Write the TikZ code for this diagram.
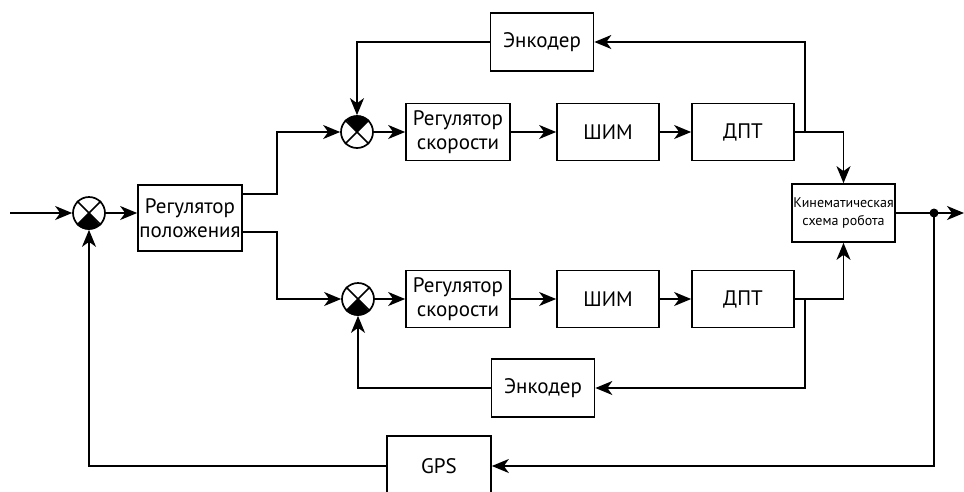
\documentclass[tikz,border=0pt]{standalone}
\usepackage{fontspec}
\setmainfont{PT Sans}
\usetikzlibrary{arrows.meta}

\tikzset{
  blk/.style={draw, line width=1.7pt, minimum width=104pt, minimum height=57pt,
    inner sep=0pt, align=center, font=\fontsize{21}{24}\selectfont},
  sumpt/.style={draw, circle, line width=1.7pt, minimum size=32pt, inner sep=0pt},
  arr/.style={line width=1.7pt, -{Stealth[length=17pt,width=14pt,inset=5pt]}},
  ln/.style={line width=1.7pt}
}

\begin{document}
\begin{tikzpicture}[x=1pt, y=-1pt]
		\clip (0,0) rectangle (964,491);

		% Summing points and blocks
		\node[sumpt] (s0) at (89,213) {};
		\node[blk, minimum height=66pt] (pos) at (190,218) {Регулятор\\положения};

		\node[sumpt] (s1) at (357,132) {};
		\node[blk] (spd1) at (458,132) {Регулятор\\скорости};
		\node[blk, minimum width=102pt] (pwm1) at (608,132) {ШИМ};
		\node[blk, minimum width=102pt] (dpt1) at (743,132) {ДПТ};
		\node[blk, minimum width=103pt, minimum height=58pt] (enc1) at (542,42) {Энкодер};

		\node[sumpt] (s2) at (358,299) {};
		\node[blk] (spd2) at (458,299) {Регулятор\\скорости};
		\node[blk, minimum width=102pt] (pwm2) at (608,299) {ШИМ};
		\node[blk, minimum width=102pt] (dpt2) at (743,299) {ДПТ};
		\node[blk, minimum width=103pt, minimum height=58pt] (enc2) at (543,388) {Энкодер};

		\node[blk, minimum width=103pt, minimum height=58pt, font=\fontsize{14}{18}\selectfont] (kin) at (843.5,213) {Кинематическая\\схема робота};
		\node[blk, minimum height=60pt] (gps) at (439,466) {GPS};

		% Branch points
		\coordinate (in) at (10,213);
		\coordinate (out) at (964,213);
		\coordinate (tap1) at (805,132);
		\coordinate (tap2) at (805,299);
		\coordinate (dot) at (934,213);

		% Crosses and filled sectors of the summing points
		\foreach \s in {s0,s1,s2} {
			\draw[ln] (\s.north east) -- (\s.south west);
			\draw[ln] (\s.north west) -- (\s.south east);
		}
		\fill (s0.center) -- (s0.south west) arc (-135:-45:16pt) -- cycle;
		\fill (s1.center) -- (s1.north east) arc (45:135:16pt) -- cycle;
		\fill (s2.center) -- (s2.south west) arc (-135:-45:16pt) -- cycle;

		% Main path
		\draw[arr] (in) -- (s0.west);
		\draw[arr] (s0.east) -- (s0.east -| pos.west);
		\draw[arr] ([yshift=24pt]pos.east) -- ++(34pt,0) |- (s1.west);
		\draw[arr] ([yshift=-14pt]pos.east) -- ++(34pt,0) |- (s2.west);

		% Upper loop
		\draw[arr] (s1.east) -- (spd1.west);
		\draw[arr] (spd1.east) -- (pwm1.west);
		\draw[arr] (pwm1.east) -- (dpt1.west);
		\draw[arr] (dpt1.east) -| (kin.north);
		\draw[arr] (tap1) |- (enc1.east);
		\draw[arr] (enc1.west) -| (s1.north);

		% Lower loop
		\draw[arr] (s2.east) -- (spd2.west);
		\draw[arr] (spd2.east) -- (pwm2.west);
		\draw[arr] (pwm2.east) -- (dpt2.west);
		\draw[arr] (dpt2.east) -| (kin.south);
		\draw[arr] (tap2) |- (enc2.east);
		\draw[arr] (enc2.west) -| (s2.south);

		% Output and GPS feedback
		\draw[arr] (kin.east) -- (out);
		\fill (dot) circle (4.5pt);
		\draw[arr] (dot) |- (gps.east);
		\draw[arr] (gps.west) -| (s0.south);
	\end{tikzpicture}
\end{document}
